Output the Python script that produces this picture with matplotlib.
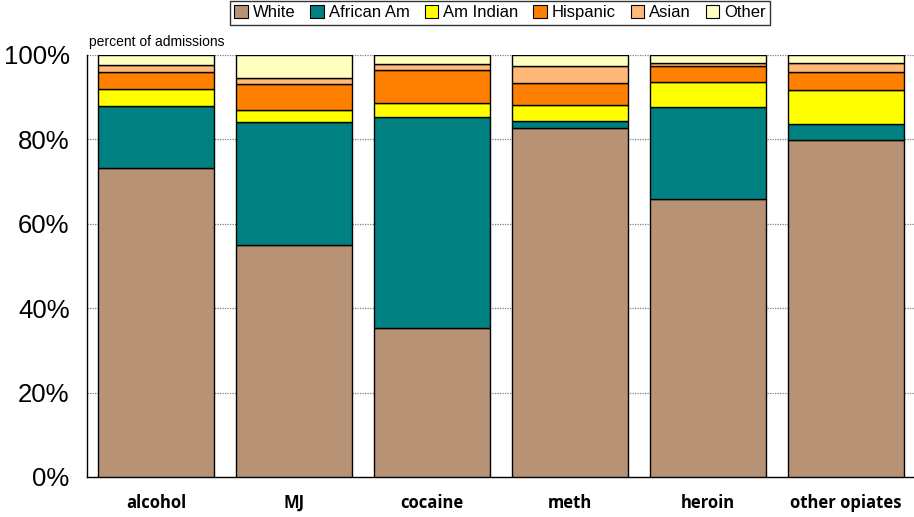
import matplotlib
matplotlib.use("Agg")
import matplotlib.pyplot as plt
from matplotlib.patches import Patch
import numpy as np

# Admissions by primary substance, share by race/ethnicity (%)
substances = ["alcohol", "MJ", "cocaine", "meth", "heroin", "other opiates"]
groups = ["White", "African Am", "Am Indian", "Hispanic", "Asian", "Other"]
white      = [73.2, 55.0, 35.3, 82.7, 65.9, 79.9]
african_am = [14.8, 29.1, 49.9,  1.7, 21.8,  3.7]
am_indian  = [ 3.9,  2.9,  3.4,  3.8,  5.8,  8.1]
hispanic   = [ 4.0,  6.1,  7.8,  5.2,  3.8,  4.2]
asian      = [ 1.7,  1.4,  1.5,  4.1,  0.9,  2.1]
other      = [ 2.4,  5.5,  2.1,  2.5,  1.8,  2.0]
yticks = [0, 20, 40, 60, 80, 100]

series = [white, african_am, am_indian, hispanic, asian, other]
colors = ["#B89274", "#008080", "#FFFF00", "#FF8000", "#FFB878", "#FFFFC0"]

fig = plt.figure(figsize=(9.14, 5.17), dpi=100)
ax = fig.add_axes([87 / 914, 40 / 517, 828 / 914, 422 / 517])

x = np.arange(len(substances))
bottom = np.zeros(len(substances))
for vals, col in zip(series, colors):
    vals = np.array(vals)
    ax.bar(x, vals, width=0.84, bottom=bottom, color=col,
           edgecolor="black", linewidth=1.0, zorder=3)
    bottom += vals

ax.set_xlim(-0.5, 5.5)
ax.set_ylim(0, 100)
ax.set_yticks(yticks)
ax.set_yticklabels([f"{t}%" for t in yticks], family="Liberation Sans", fontsize=18.5)
ax.tick_params(axis="y", length=0, pad=12.5)
ax.set_xticks(x)
ax.set_xticklabels(substances, family="Open Sans", fontweight="bold", fontsize=12)
ax.tick_params(axis="x", length=0, pad=12)

for t in yticks[1:]:
    ax.axhline(t, color="#808080", linestyle=(0, (1, 1)), linewidth=0.9, zorder=1)

for side in ["top", "right"]:
    ax.spines[side].set_visible(False)
for side in ["left", "bottom"]:
    ax.spines[side].set_color("black")
    ax.spines[side].set_linewidth(1.0)

fig.text(89 / 914, 1 - 42 / 517, "percent of admissions", family="Liberation Sans",
         fontsize=10, va="center", ha="left")

handles = [Patch(facecolor=c, edgecolor="black", linewidth=0.8) for c in colors]
leg = fig.legend(handles, groups, loc="upper center", bbox_to_anchor=(500 / 914, 0.998),
                 ncol=6, frameon=True, fancybox=False, edgecolor="black",
                 prop={"family": "Liberation Sans", "size": 12},
                 handlelength=0.8, handleheight=0.8, handletextpad=0.3,
                 columnspacing=0.9, borderpad=0.25, borderaxespad=0.0)
leg.get_frame().set_linewidth(1.0)

fig.savefig("out.png", dpi=100)
